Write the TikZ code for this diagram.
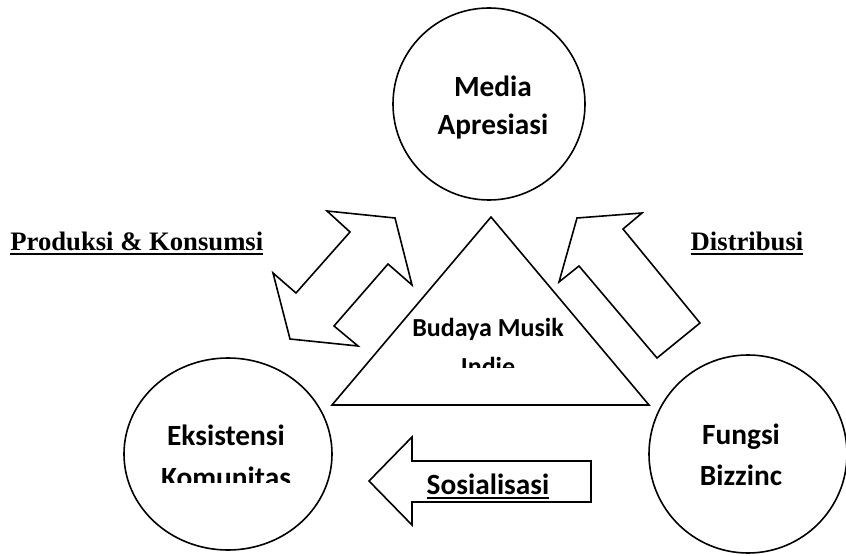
\documentclass[tikz,border=0pt]{standalone}
\usepackage{fontspec}
\setmainfont{Liberation Serif}
\newfontfamily\calibri{Carlito}
\usetikzlibrary{positioning,shapes.geometric}

% underline with a heavier rule
\newcommand\heavyul[2][1.6pt]{\setbox0=\hbox{#2}\leavevmode\rlap{\copy0}\lower3.5pt\hbox{\vrule width\wd0 height #1 depth 0pt}}

\begin{document}
\begin{tikzpicture}[
  x=0.75pt, y=-0.75pt,
  ring/.style={
    ellipse,
    draw=black,
    line width=1.2pt,
    inner sep=0pt
  },
  outline/.style={draw=black, line width=1.2pt, line join=miter},
  caption/.style={font=\calibri\bfseries\fontsize{22}{26}\selectfont, anchor=base},
  tag/.style={font=\bfseries\fontsize{20}{24}\selectfont, anchor=base}
]
\useasboundingbox (0,0) rectangle (846,556);

% circles
\node[ring, minimum width=144pt, minimum height=144pt] (media) at (489,104) {};
\node[ring, minimum width=156pt, minimum height=144pt] (komunitas) at (228,454) {};
\node[ring, minimum width=148.5pt, minimum height=148.5pt] (bisnis) at (748,454) {};

% triangle
\draw[outline] (491,217) -- (649,405) -- (332,405) -- cycle;

% block arrows
\draw[outline] (327,211) -- (395,218) -- (412,285) -- (388,264) -- (334,326)
  -- (358,346) -- (290,339) -- (273,273) -- (296,293) -- (350,232) -- cycle;
\draw[outline] (577,218) -- (642,213) -- (623,229) -- (700,323) -- (657,358)
  -- (579,266) -- (559,282) -- cycle;
\draw[outline] (369,481) -- (412,437) -- (412,461) -- (591,461) -- (591,502)
  -- (412,502) -- (412,525) -- cycle;

% texts
\node[caption] (mediatxt) at (493,97) {Media};
\node[caption] (apresiasitxt) at (493,135) {Apresiasi};
\node[caption, font=\calibri\bfseries\fontsize{19.5}{24}\selectfont] (budayatxt) at (488,336) {Budaya Musik};
\begin{scope}
  \clip (380,340) rectangle (600,367);
  \node[caption, font=\calibri\bfseries\fontsize{19.5}{24}\selectfont] (indietxt) at (488,375) {Indie};
\end{scope}
\node[caption] (eksistensitxt) at (226,445) {Eksistensi};
\begin{scope}
  \clip (100,450) rectangle (360,482);
  \node[caption] (komunitastxt) at (226,487) {Komunitas};
\end{scope}
\node[caption] (fungsitxt) at (741,444) {Fungsi};
\node[caption] (bizzinctxt) at (741,485) {Bizzinc};
\node[caption] (sosialisasitxt) at (488,494) {\heavyul[1pt]{Sosialisasi}};

\node[tag, anchor=base east] (produksitxt) at (268,250) {\heavyul{Produksi \& Konsumsi}};
\node[tag, anchor=base west] (distribusitxt) at (686,250) {\heavyul{Distribusi}};

\end{tikzpicture}
\end{document}
